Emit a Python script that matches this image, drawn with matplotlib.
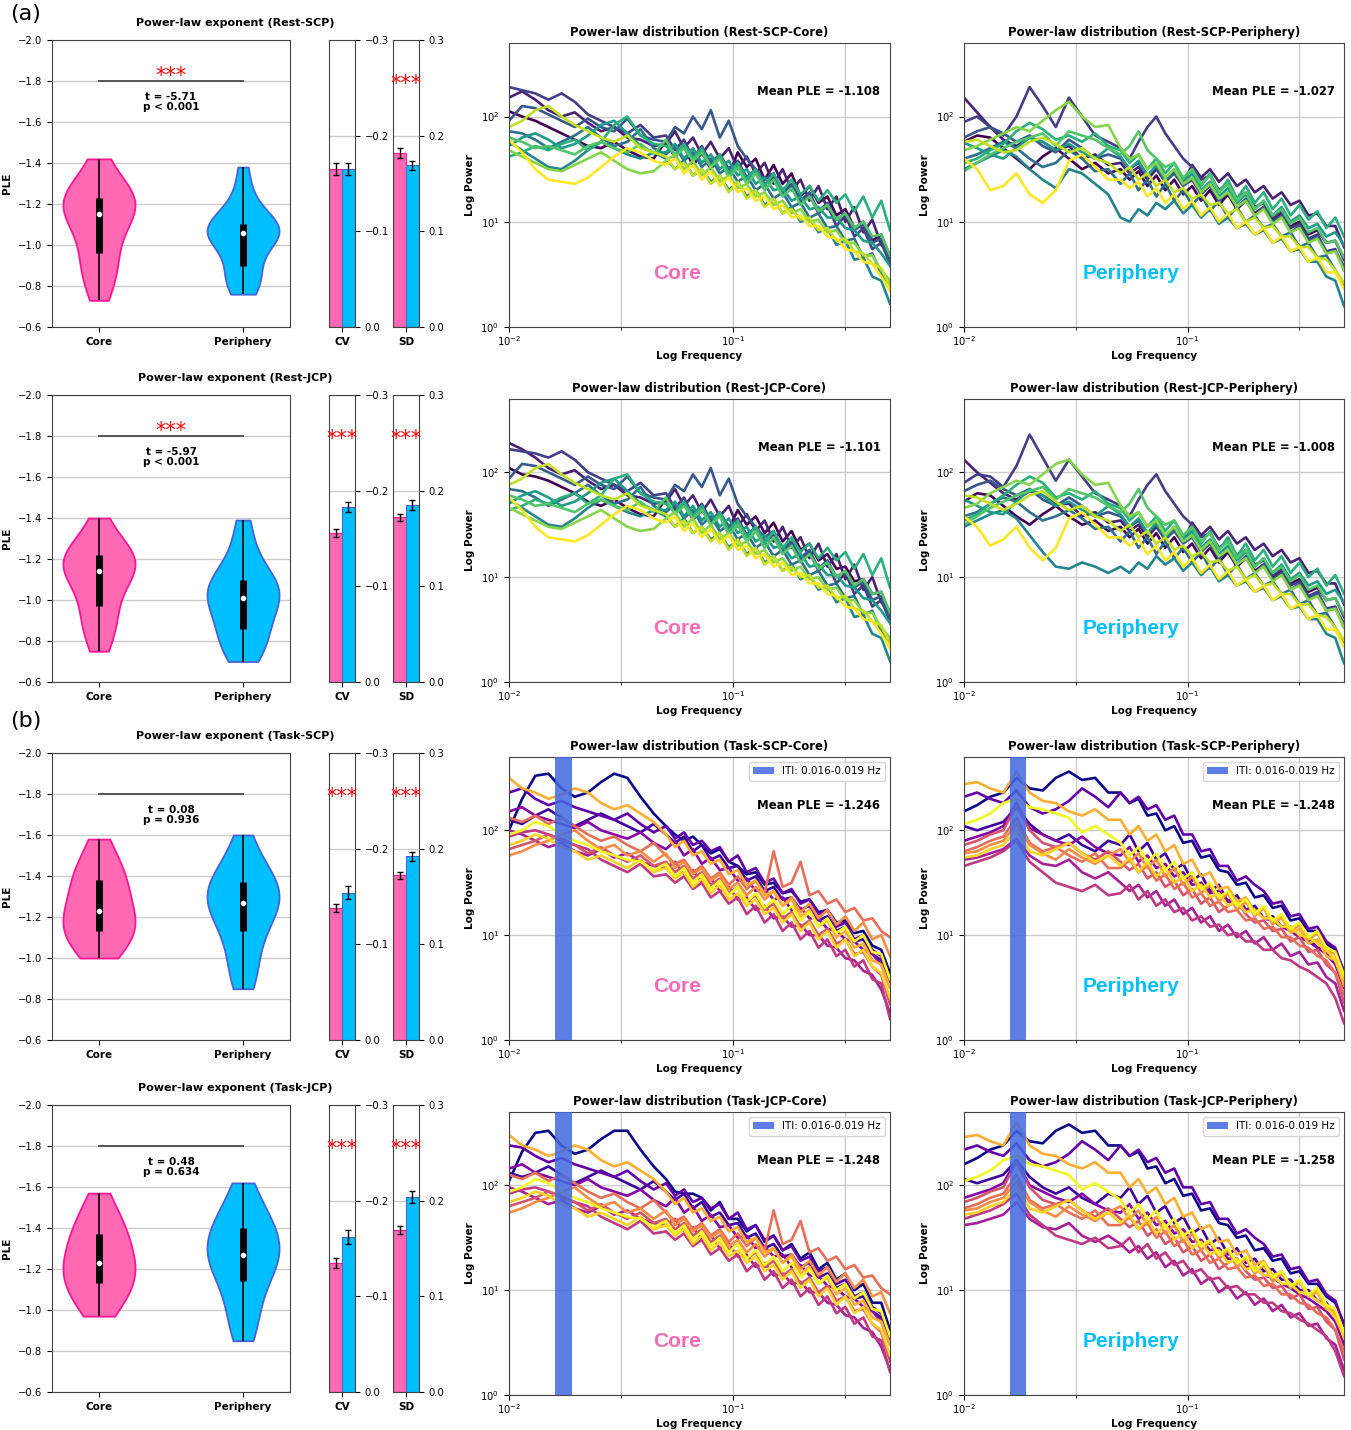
import numpy as np
import matplotlib
matplotlib.use('Agg')
import matplotlib.pyplot as plt
from matplotlib.ticker import FixedLocator, NullLocator, NullFormatter

plt.rcParams['font.family'] = ['DejaVu Sans']
plt.rcParams['axes.edgecolor'] = '#444444'
plt.rcParams['xtick.labelsize'] = 7.2
plt.rcParams['ytick.labelsize'] = 7.2

# ---------------- data ----------------
groups = ['Core', 'Periphery']
conditions = ['Rest-SCP', 'Rest-JCP', 'Task-SCP', 'Task-JCP']

# PLE samples per condition (core, periphery)
ple_rest_scp_core = [-1.42, -1.35, -1.30, -1.27, -1.25, -1.23, -1.22, -1.21, -1.19, -1.18, -1.15,
                     -1.13, -1.10, -1.07, -1.03, -0.96, -0.93, -0.89, -0.85, -0.80, -0.73]
ple_rest_scp_peri = [-1.38, -1.28, -1.20, -1.15, -1.12, -1.10, -1.09, -1.08, -1.07, -1.06, -1.06,
                     -1.05, -1.04, -1.02, -1.00, -0.90, -0.88, -0.85, -0.82, -0.79, -0.76]
ple_rest_jcp_core = [-1.40, -1.33, -1.28, -1.25, -1.23, -1.22, -1.20, -1.19, -1.17, -1.16, -1.14,
                     -1.12, -1.10, -1.07, -1.03, -0.97, -0.94, -0.90, -0.86, -0.81, -0.75]
ple_rest_jcp_peri = [-1.39, -1.30, -1.22, -1.15, -1.12, -1.10, -1.08, -1.06, -1.04, -1.03, -1.01,
                     -0.99, -0.97, -0.94, -0.90, -0.86, -0.83, -0.80, -0.77, -0.74, -0.70]
ple_task_scp_core = [-1.58, -1.52, -1.47, -1.43, -1.40, -1.38, -1.35, -1.32, -1.29, -1.26, -1.23,
                     -1.21, -1.19, -1.17, -1.15, -1.13, -1.11, -1.08, -1.05, -1.03, -1.00]
ple_task_scp_peri = [-1.60, -1.52, -1.46, -1.42, -1.39, -1.37, -1.35, -1.33, -1.31, -1.29, -1.27,
                     -1.25, -1.23, -1.20, -1.17, -1.13, -1.08, -1.02, -0.96, -0.90, -0.85]
ple_task_jcp_core = [-1.57, -1.51, -1.46, -1.42, -1.39, -1.37, -1.34, -1.31, -1.28, -1.26, -1.23,
                     -1.21, -1.19, -1.17, -1.15, -1.13, -1.10, -1.07, -1.04, -1.01, -0.97]
ple_task_jcp_peri = [-1.62, -1.55, -1.49, -1.45, -1.42, -1.40, -1.37, -1.34, -1.32, -1.30, -1.27,
                     -1.25, -1.23, -1.21, -1.18, -1.14, -1.09, -1.03, -0.97, -0.91, -0.85]

t_values = ['-5.71', '-5.97', '0.08', '0.48']
p_texts = ['p < 0.001', 'p < 0.001', 'p = 0.936', 'p = 0.634']
ple_sig = [True, True, False, False]

# CV and SD bars (core, periphery) with errors
cv_values = [[-0.165, -0.165], [-0.156, -0.183], [-0.138, -0.154], [-0.135, -0.162]]
cv_errors = [[0.006, 0.006], [0.004, 0.005], [0.0045, 0.007], [0.005, 0.007]]
cv_sig = [False, True, True, True]
sd_values = [[0.182, 0.169], [0.172, 0.185], [0.172, 0.192], [0.169, 0.204]]
sd_errors = [[0.0055, 0.005], [0.004, 0.005], [0.004, 0.005], [0.004, 0.006]]
sd_sig = [True, True, True, True]

# spectra: frequency grid (Hz); power values given as log10(power)*100
freqs = [0.0100, 0.01144, 0.01310, 0.01499, 0.01716, 0.01964, 0.02248, 0.02573, 0.02945, 0.03371,
         0.03858, 0.04416,
         0.0501, 0.0550, 0.0603, 0.0661, 0.0724, 0.0794, 0.0871, 0.0955, 0.1047, 0.1148, 0.1259,
         0.1380, 0.1514, 0.1660, 0.1820, 0.1995, 0.2188, 0.2399, 0.2630, 0.2884, 0.3162, 0.3467,
         0.3802, 0.4169, 0.4571, 0.5000]

spec_rest_scp_core = [
    [205,200,196,190,184,178,172,170,176,168,162,160,177,161,172,153,166,150,162,144,166,152,160,140,154,136,146,124,134,118,124,106,112,94,100,82,88,66],
    [218,224,216,206,200,204,194,186,190,180,178,172,174,186,170,180,164,176,160,170,150,162,146,156,136,150,130,140,120,134,112,124,100,114,90,102,78,70],
    [228,225,222,216,222,214,202,196,190,184,192,180,182,168,178,160,172,156,164,150,158,142,150,136,142,128,134,118,126,108,116,96,106,86,94,74,80,60],
    [196,210,208,202,196,190,198,190,186,198,182,178,176,190,184,200,188,206,180,196,172,160,150,140,146,128,136,120,128,110,118,102,108,92,98,80,84,62],
    [186,184,178,170,176,182,190,180,172,176,188,170,164,172,158,166,152,160,146,152,138,144,130,136,122,128,114,118,104,108,94,96,82,84,66,70,50,40],
    [176,168,160,152,150,158,168,176,170,164,160,166,160,150,158,144,150,138,144,130,138,124,130,116,122,108,114,100,104,90,94,78,82,64,66,48,44,22],
    [172,180,184,178,170,174,182,192,196,184,172,166,166,174,160,170,156,164,150,158,144,150,136,142,130,132,120,124,112,114,104,104,94,92,82,80,70,58],
    [162,166,172,168,174,178,168,176,192,200,182,174,172,164,174,160,170,152,164,146,156,140,150,134,146,130,140,126,134,120,130,118,126,110,124,104,120,92],
    [180,176,170,172,168,164,172,176,170,166,174,164,178,162,170,158,166,152,160,142,152,136,146,130,140,124,132,116,124,110,116,102,108,94,100,86,88,68],
    [168,162,156,150,148,154,160,166,158,150,146,148,158,164,150,158,144,152,138,144,132,136,124,128,116,120,108,112,100,102,90,92,80,80,68,68,54,44],
    [190,196,206,210,200,192,186,180,176,182,170,166,162,150,156,144,150,136,144,128,138,122,130,114,122,108,112,102,104,92,94,82,84,72,70,60,56,38],
    [178,166,150,140,138,136,142,152,162,170,166,158,154,160,146,154,140,148,134,142,128,132,120,124,112,116,104,106,96,96,86,84,74,72,62,60,48,34],
]
spec_rest_scp_peri = [
    [176,182,180,170,160,150,162,170,160,150,156,146,150,140,148,134,144,130,140,126,134,120,130,116,126,112,120,108,114,102,108,96,100,88,92,80,82,64],
    [218,204,190,178,172,180,176,168,172,160,164,154,156,146,152,140,150,138,148,136,154,142,150,138,146,134,140,128,134,122,128,116,120,106,108,96,96,76],
    [195,200,190,182,200,228,210,190,218,200,182,176,170,160,176,190,200,184,172,160,152,140,144,130,136,122,128,114,118,104,110,94,98,84,88,72,74,54],
    [180,186,190,184,176,182,172,166,178,170,160,164,160,150,156,144,152,138,146,134,140,126,134,120,128,114,122,106,114,100,106,90,96,82,86,70,72,58],
    [160,164,170,176,170,160,152,156,168,160,148,150,136,146,130,140,124,136,120,130,116,126,110,120,104,114,100,106,94,98,86,90,76,80,66,68,54,40],
    [150,156,162,168,162,150,140,132,150,146,136,126,104,100,112,106,118,112,120,108,116,104,112,98,104,94,98,88,92,80,84,72,74,62,62,48,44,20],
    [175,170,164,160,170,180,176,168,174,166,160,170,162,150,158,144,154,140,150,136,146,130,138,124,132,118,126,112,120,106,114,100,106,94,98,86,90,78],
    [156,160,168,174,186,194,188,178,182,176,184,172,168,156,164,150,160,146,156,140,150,134,146,128,140,122,134,118,128,112,122,106,116,102,110,94,104,86],
    [148,156,164,170,176,180,184,172,186,182,178,170,164,172,186,168,160,152,156,142,150,136,144,128,136,120,128,112,120,106,112,98,104,90,94,80,82,66],
    [168,172,178,184,190,186,196,206,214,200,190,192,170,160,164,150,156,142,150,136,142,128,136,122,128,114,120,106,112,98,104,90,94,80,84,70,72,54],
    [176,178,172,166,168,176,180,174,166,170,160,156,146,152,140,146,134,140,128,132,122,126,116,118,108,112,100,104,94,96,86,86,76,76,66,64,54,42],
    [160,150,130,134,146,126,118,130,158,164,152,140,140,132,138,124,132,118,126,112,120,106,114,100,108,94,100,88,94,80,86,72,76,62,66,52,52,36],
]
spec_rest_jcp_core = [
    [204,198,196,192,186,180,172,168,174,166,160,158,175,163,170,155,164,152,160,146,164,150,158,142,152,134,144,126,132,116,122,108,110,96,98,84,86,64],
    [228,222,214,204,198,202,192,184,188,178,176,170,172,184,168,178,162,174,158,168,148,160,144,154,134,148,128,138,118,132,110,122,98,112,88,100,76,68],
    [222,220,218,214,220,212,200,194,188,182,190,178,180,166,176,158,170,154,162,148,156,140,148,134,140,126,132,116,124,106,114,94,104,84,92,72,78,58],
    [194,208,206,200,194,188,196,188,184,196,180,176,174,188,182,198,186,204,178,194,170,158,148,138,144,126,134,118,126,108,116,100,106,90,96,78,82,60],
    [184,182,176,168,174,180,188,178,170,174,186,168,162,170,156,164,150,158,144,150,136,142,128,134,120,126,112,116,102,106,92,94,80,82,64,68,48,38],
    [174,166,158,150,148,156,166,174,168,162,158,164,158,148,156,142,148,136,142,128,136,122,128,114,120,106,112,98,102,88,92,76,80,62,64,46,42,20],
    [170,178,182,176,168,172,180,190,194,182,170,164,164,172,158,168,154,162,148,156,142,148,134,140,128,130,118,122,110,112,102,102,92,90,80,78,68,56],
    [164,168,174,170,176,180,170,178,194,198,180,172,170,162,172,158,168,150,162,144,154,138,148,132,144,128,138,124,132,118,128,116,124,108,122,102,118,90],
    [178,174,168,170,166,162,170,174,168,164,172,162,176,160,168,156,164,150,158,140,150,134,144,128,138,122,130,114,122,108,114,100,106,92,98,84,86,66],
    [166,160,154,148,146,152,158,164,156,148,144,146,156,162,148,156,142,150,136,142,130,134,122,126,114,118,106,110,98,100,88,90,78,78,66,66,52,42],
    [188,194,204,208,198,190,184,178,174,180,168,164,160,148,154,142,148,134,142,126,136,120,128,112,120,106,110,100,102,90,92,80,82,70,68,58,54,36],
    [176,164,148,138,136,134,140,150,160,168,164,156,152,158,144,152,138,146,132,140,126,130,118,122,110,114,102,104,94,94,84,82,72,70,60,58,46,32],
]
spec_rest_jcp_peri = [
    [172,180,178,168,158,150,160,168,158,150,154,144,148,138,146,132,142,128,138,124,132,118,128,114,124,110,118,106,112,100,106,94,98,86,90,78,80,62],
    [212,200,190,180,174,182,178,170,170,158,162,152,154,144,150,138,148,136,146,134,152,140,148,136,144,132,138,126,132,120,126,114,118,104,106,94,94,74],
    [190,198,196,186,206,236,214,192,212,196,180,174,168,158,174,188,198,182,170,158,150,138,142,128,134,120,126,112,116,102,108,92,96,82,86,70,72,52],
    [182,188,192,184,178,184,174,168,176,168,158,162,158,148,154,142,150,136,144,132,138,124,132,118,126,112,120,104,112,98,104,88,94,80,84,68,70,56],
    [158,162,170,176,172,162,154,158,164,156,146,148,134,144,128,138,122,134,118,128,114,124,108,118,102,112,98,104,92,96,84,88,74,78,64,66,52,38],
    [148,154,160,164,156,140,124,110,108,114,110,104,110,104,114,108,120,112,118,106,114,102,110,96,102,92,96,86,90,78,82,70,72,60,60,46,42,18],
    [174,168,162,160,172,184,178,168,172,164,158,168,160,148,156,142,152,138,148,134,144,128,136,122,130,116,124,110,118,104,112,98,104,92,96,84,88,76],
    [154,160,170,178,188,196,190,176,180,174,182,170,166,154,162,148,158,144,154,138,148,132,144,126,138,120,132,116,126,110,120,104,114,100,108,92,102,84],
    [150,158,166,172,178,182,186,174,184,180,176,168,162,170,184,166,158,150,154,140,148,134,142,126,134,118,126,110,118,104,110,96,102,88,92,78,80,64],
    [166,170,180,186,192,188,198,208,212,198,188,190,168,158,162,148,154,140,148,134,140,126,134,120,126,112,118,104,110,96,102,88,92,78,82,68,70,52],
    [178,176,170,164,170,178,182,172,164,168,158,154,144,150,138,144,132,138,126,130,120,124,114,116,106,110,98,102,92,94,84,84,74,74,64,62,52,40],
    [158,148,130,136,148,128,116,128,156,162,150,138,138,130,136,122,130,116,124,110,118,104,112,98,106,92,98,86,92,78,84,70,74,60,64,50,50,34],
]
spec_task_scp_core = [
    [200,230,252,254,240,232,236,246,254,250,232,216,204,196,190,194,186,178,182,170,166,158,160,148,150,140,142,132,134,122,124,112,114,102,104,90,86,64],
    [210,206,214,220,212,204,210,216,210,204,198,206,196,188,194,180,186,172,176,164,166,152,156,142,146,134,136,124,128,114,118,104,108,94,96,82,76,56],
    [236,240,230,224,228,222,218,214,210,216,206,198,204,192,198,186,190,180,184,170,176,160,164,150,154,140,144,130,134,120,124,108,112,96,100,86,80,58],
    [218,222,214,210,206,202,208,200,196,192,198,188,182,190,176,182,168,174,162,164,152,154,142,144,134,136,124,126,116,116,106,104,96,94,86,82,72,50],
    [200,196,190,184,188,180,176,182,174,178,170,166,164,170,158,162,150,154,142,146,134,136,124,128,116,118,108,110,100,100,90,88,78,76,66,62,48,26],
    [194,198,200,196,190,186,182,172,166,160,168,156,158,150,156,144,150,136,142,130,136,120,128,112,120,104,112,96,104,88,96,80,86,70,76,58,54,20],
    [182,186,190,196,192,186,178,184,176,170,176,166,170,160,166,154,160,148,154,140,146,132,138,124,130,116,122,108,114,100,106,92,96,82,84,70,62,34],
    [212,208,214,206,212,204,196,190,194,186,180,188,176,168,172,160,166,154,160,148,156,144,152,140,180,146,150,170,138,142,130,134,122,126,114,116,104,98],
    [176,180,186,190,196,200,190,182,186,176,180,170,178,164,170,158,164,152,158,144,150,138,146,134,142,128,136,122,130,116,124,110,118,104,112,96,100,80],
    [250,240,236,230,234,240,236,226,220,224,216,208,196,184,190,176,180,168,172,158,162,148,152,138,142,128,134,118,124,108,114,98,104,88,92,76,72,50],
    [186,190,196,192,184,180,172,176,170,164,172,160,164,154,160,146,154,140,148,134,140,128,134,120,126,112,120,104,112,96,104,88,96,80,86,70,64,40],
    [196,200,208,204,196,190,186,180,176,172,170,162,168,156,164,150,158,144,152,138,146,132,140,126,134,120,128,114,122,108,116,102,108,94,100,84,82,58],
]
spec_task_scp_peri = [
    [218,224,232,236,250,240,238,250,256,248,250,236,236,226,230,214,216,200,204,188,190,174,176,162,160,148,150,136,138,126,128,114,116,104,104,92,86,66],
    [204,200,204,208,222,206,196,190,196,186,180,190,186,196,180,188,172,178,162,168,152,158,142,148,132,138,124,128,116,118,108,108,98,98,88,86,74,54],
    [232,236,230,226,238,222,216,220,228,240,232,222,236,226,232,220,224,210,214,196,196,180,182,166,166,152,156,148,142,130,132,118,120,106,108,94,88,64],
    [190,194,198,204,226,202,196,190,186,194,184,178,176,184,170,176,164,168,156,160,148,150,140,142,132,132,124,124,116,114,108,104,98,94,88,82,72,50],
    [172,174,178,182,192,176,168,166,172,160,154,160,150,142,148,136,142,128,134,120,126,112,118,104,110,98,104,92,98,86,92,80,84,72,74,60,54,28],
    [166,170,174,180,190,170,160,150,146,142,148,138,140,148,134,142,128,134,122,126,114,118,108,110,100,102,94,94,86,86,78,76,70,66,60,54,40,16],
    [186,190,196,200,224,200,188,184,188,178,172,180,170,162,168,154,160,146,152,138,144,130,136,122,128,132,120,112,114,104,106,94,98,84,86,72,64,36],
    [180,184,190,194,212,188,180,184,176,170,178,164,164,172,160,166,152,158,144,150,136,140,128,132,122,124,114,116,106,108,98,98,90,88,80,76,64,44],
    [178,180,186,190,206,186,178,172,182,174,168,176,182,170,178,164,172,156,164,148,156,140,148,132,140,124,132,118,126,110,118,104,110,96,102,86,82,60],
    [244,246,240,236,256,236,228,226,218,214,220,210,210,196,204,190,196,180,186,168,172,156,160,144,146,132,136,122,126,112,116,102,106,92,96,80,76,52],
    [174,176,182,186,200,180,176,182,188,178,170,176,166,174,160,170,156,164,150,156,142,148,136,140,128,132,122,124,116,116,108,108,100,98,92,86,76,58],
    [206,210,216,226,230,222,220,216,212,198,204,196,188,176,184,170,178,162,170,154,160,144,150,136,142,128,134,120,128,114,120,106,112,98,104,88,84,62],
]
spec_task_jcp_core = [
    [204,232,250,252,238,230,234,244,252,252,234,218,206,194,192,192,188,176,184,168,168,156,162,146,152,138,144,130,136,120,126,110,116,100,106,88,88,62],
    [212,208,212,218,210,202,208,214,208,202,196,204,194,186,192,178,184,170,174,162,164,150,154,140,144,132,134,122,126,112,116,102,106,92,94,80,74,54],
    [238,236,228,222,226,220,216,212,208,214,204,196,202,190,196,184,188,178,182,168,174,158,162,148,152,138,142,128,132,118,122,106,110,94,98,84,78,56],
    [216,220,212,208,204,200,206,198,194,190,196,186,180,188,174,180,166,172,160,162,150,152,140,142,132,134,122,124,114,114,104,102,94,92,84,80,70,48],
    [198,194,188,182,186,178,174,180,172,176,168,164,162,168,156,160,148,152,140,144,132,134,122,126,114,116,106,108,98,98,88,86,76,74,64,60,46,24],
    [192,196,198,194,188,184,180,170,164,158,166,154,156,148,154,142,148,134,140,128,134,118,126,110,118,102,110,94,102,86,94,78,84,68,74,56,52,22],
    [180,184,188,194,190,184,176,182,174,168,174,164,168,158,164,152,158,146,152,138,144,130,136,122,128,114,120,106,112,98,104,90,94,80,82,68,60,32],
    [210,206,212,204,210,202,194,188,192,184,178,186,174,166,170,158,164,152,158,146,154,142,150,138,176,144,148,166,136,140,128,132,120,124,112,114,102,96],
    [174,178,184,188,194,198,188,180,184,174,178,168,176,162,168,156,162,150,156,142,148,136,144,132,140,126,134,120,128,114,122,108,116,102,110,94,98,78],
    [248,238,234,228,232,238,234,224,218,222,214,206,194,182,188,174,178,166,170,156,160,146,150,136,140,126,132,116,122,106,112,96,102,86,90,74,70,48],
    [184,188,194,190,182,178,170,174,168,162,170,158,162,152,158,144,152,138,146,132,138,126,132,118,124,110,118,102,110,94,102,86,94,78,84,68,62,38],
    [194,198,206,202,194,188,184,178,174,170,168,160,166,154,162,148,156,142,150,136,144,130,138,124,132,118,126,112,120,106,114,100,106,92,98,82,80,56],
]
spec_task_jcp_peri = [
    [220,226,234,238,252,242,240,252,258,250,252,238,238,228,232,216,218,202,206,190,192,176,178,164,162,150,152,138,140,128,130,116,118,106,106,94,88,68],
    [206,202,206,210,224,208,198,192,198,188,182,192,188,198,182,190,174,180,164,170,154,160,144,150,134,140,126,130,118,120,110,110,100,100,90,88,76,56],
    [234,238,232,228,240,224,218,222,230,242,234,224,238,228,234,222,226,212,216,198,198,182,184,168,168,154,158,150,144,132,134,120,122,108,110,96,90,66],
    [188,192,196,202,224,200,194,188,184,192,182,176,174,182,168,174,162,166,154,158,146,148,138,140,130,130,122,122,114,112,106,102,96,92,86,80,70,48],
    [162,164,168,172,184,168,160,158,164,152,146,152,144,136,142,130,136,122,128,114,120,106,112,98,104,92,98,86,92,80,86,74,78,66,68,54,48,24],
    [168,172,176,182,192,172,162,152,148,144,150,140,142,150,136,144,130,136,124,128,116,120,110,112,102,104,96,96,88,88,80,78,72,68,62,56,42,18],
    [184,188,194,198,222,198,186,182,186,176,170,178,168,160,166,152,158,144,150,136,142,128,134,120,126,130,118,110,112,102,104,92,96,82,84,70,62,34],
    [178,182,188,192,210,186,178,182,174,168,176,162,162,170,158,164,150,156,142,148,134,138,126,130,120,122,112,114,104,106,96,96,88,86,78,74,62,42],
    [176,178,184,188,204,184,176,170,180,172,166,174,180,168,176,162,170,154,162,146,154,138,146,130,138,122,130,116,124,108,116,102,108,94,100,84,80,58],
    [246,248,242,238,260,238,230,228,220,216,222,212,212,198,206,192,198,182,188,170,174,158,162,146,148,134,138,124,128,114,118,104,108,94,98,82,78,54],
    [172,174,180,184,198,178,174,180,186,176,168,174,164,172,158,168,154,162,148,154,140,146,134,138,126,130,120,122,114,114,106,106,98,96,90,84,74,56],
    [204,208,214,224,228,220,218,214,210,196,202,194,186,174,182,168,176,160,168,152,158,142,148,134,140,126,132,118,126,112,118,104,110,96,102,86,82,60],
]
mean_ple = [['-1.108', '-1.027'], ['-1.101', '-1.008'], ['-1.246', '-1.248'], ['-1.248', '-1.258']]
iti_band = [0.016, 0.019]
iti_label = 'ITI: 0.016-0.019 Hz'

ple_data = [(ple_rest_scp_core, ple_rest_scp_peri), (ple_rest_jcp_core, ple_rest_jcp_peri),
            (ple_task_scp_core, ple_task_scp_peri), (ple_task_jcp_core, ple_task_jcp_peri)]
spec_data = [(spec_rest_scp_core, spec_rest_scp_peri), (spec_rest_jcp_core, spec_rest_jcp_peri),
             (spec_task_scp_core, spec_task_scp_peri), (spec_task_jcp_core, spec_task_jcp_peri)]

# ---------------- style ----------------
PINK, PINK_E = '#FF69B4', '#FF1493'
BLUE, BLUE_E = '#00BFFF', '#4464D8'
GRID = '#cccccc'

W, H = 1351, 1430
fig = plt.figure(figsize=(W / 100, H / 100), dpi=100)


def ax_px(x0, y0, x1, y1):
    return fig.add_axes([x0 / W, 1 - y1 / H, (x1 - x0) / W, (y1 - y0) / H])


vio_top = [40, 395, 753, 1105]
spec_top = [43, 399, 757, 1112]
spec_bot = [327, 682, 1040, 1395]
freq_arr = np.array(freqs)

for r in range(4):
    top = vio_top[r]
    bot = top + 287
    # ---- violin ----
    ax = ax_px(52, top, 290, bot)
    core, peri = ple_data[r]
    parts = ax.violinplot([core, peri], positions=[0, 1], widths=0.5, showextrema=False)
    for body, fc, ec in zip(parts['bodies'], [PINK, BLUE], [PINK_E, BLUE_E]):
        body.set_facecolor(fc)
        body.set_edgecolor(ec)
        body.set_alpha(1)
        body.set_linewidth(1.3)
        body.set_zorder(2)
    for x, d in zip([0, 1], [core, peri]):
        q1, med, q3 = np.percentile(d, [25, 50, 75])
        ax.vlines(x, min(d), max(d), color='k', lw=1.2, zorder=3)
        ax.vlines(x, q1, q3, color='k', lw=5, zorder=3)
        ax.scatter([x], [med], color='white', s=9, zorder=4)
    ax.plot([0, 1], [-1.8, -1.8], color='#555555', lw=1.4, zorder=3)
    if ple_sig[r]:
        ax.text(0.5, -1.795, '***', color='red', ha='center', va='baseline', fontsize=15)
    ax.text(0.5, -1.748, f't = {t_values[r]}\n{p_texts[r]}', ha='center', va='top',
            fontsize=7.5, fontweight='bold', linespacing=1.1)
    ax.set_xlim(-0.326, 1.326)
    ax.set_ylim(-0.6, -2.0)
    ax.set_yticks([-2.0, -1.8, -1.6, -1.4, -1.2, -1.0, -0.8, -0.6])
    ax.set_xticks([0, 1])
    ax.set_xticklabels(groups, fontweight='bold', fontsize=7.5)
    ax.set_ylabel('PLE', fontweight='bold', fontsize=7.5)
    ax.yaxis.grid(True, color=GRID, lw=1)
    ax.set_axisbelow(True)
    fig.text(235 / W, 1 - (top - 17) / H, f'Power-law exponent ({conditions[r]})',
             ha='center', va='center', fontsize=8, fontweight='bold')

    # ---- CV / SD bars ----
    for (x0, x1), vals, errs, lab, sig, ylim, ticks in [
            ((329, 355), cv_values[r], cv_errors[r], 'CV', cv_sig[r], (0, -0.3), [0.0, -0.1, -0.2, -0.3]),
            ((393, 419), sd_values[r], sd_errors[r], 'SD', sd_sig[r], (0, 0.3), [0.0, 0.1, 0.2, 0.3])]:
        bx = ax_px(x0, top, x1, bot)
        bx.bar([0, 1], vals, width=1, color=[PINK, BLUE], edgecolor=[PINK_E, BLUE_E], lw=0.8, zorder=2)
        bx.errorbar([0, 1], vals, yerr=errs, fmt='none', ecolor='k', elinewidth=1,
                    capsize=2.5, capthick=1, zorder=3)
        bx.set_xlim(-0.52, 1.52)
        bx.set_ylim(*ylim)
        bx.yaxis.tick_right()
        bx.set_yticks(ticks)
        bx.set_xticks([0.5])
        bx.set_xticklabels([lab], fontweight='bold', fontsize=7.5)
        bx.yaxis.grid(True, color=GRID, lw=1)
        bx.set_axisbelow(True)
        if sig:
            sy = 0.248 if ylim[1] > 0 else -0.248
            bx.text(0.5, sy, '***', color='red', ha='center', va='baseline', fontsize=15, clip_on=False)

    # ---- spectra ----
    task = r >= 2
    cmap = plt.cm.plasma if task else plt.cm.viridis
    for c, (x0, x1) in enumerate([(509, 890), (964, 1344)]):
        sx = ax_px(x0, spec_top[r], x1, spec_bot[r])
        lines = spec_data[r][c]
        cols = cmap(np.linspace(0, 1, len(lines)))
        for v, col in zip(lines, cols):
            n = min(len(v), len(freq_arr))
            sx.loglog(freq_arr[:n], 10 ** (np.array(v[:n]) / 100.0), color=col, lw=1.9, zorder=2)
        if task:
            sx.axvspan(iti_band[0], iti_band[1], color='royalblue', alpha=0.85, lw=0, zorder=3,
                       label=iti_label)
            sx.legend(loc='upper right', fontsize=7.5)
        sx.set_xlim(0.01, 0.5)
        sx.set_ylim(1, 500)
        sx.xaxis.set_major_locator(FixedLocator([0.01, 0.1]))
        sx.xaxis.set_minor_locator(FixedLocator([10 ** -1.5, 10 ** -0.5]))
        sx.xaxis.set_minor_formatter(NullFormatter())
        sx.yaxis.set_major_locator(FixedLocator([1, 10, 100]))
        sx.yaxis.set_minor_locator(NullLocator())
        sx.tick_params(axis='x', which='both', pad=2)
        sx.grid(True, which='both', color=GRID, lw=1)
        sx.set_axisbelow(True)
        region = groups[c]
        sx.set_title(f'Power-law distribution ({conditions[r]}-{region})', fontsize=8.4,
                     fontweight='bold', pad=5)
        sx.set_xlabel('Log Frequency', fontweight='bold', fontsize=7.5, labelpad=2)
        sx.set_ylabel('Log Power', fontweight='bold', fontsize=7.5)
        sx.text(0.975, 0.83, f'Mean PLE = {mean_ple[r][c]}', transform=sx.transAxes,
                ha='right', va='center', fontsize=8.4, fontweight='bold', zorder=5)
        sx.text(0.44, 0.19, region, transform=sx.transAxes, ha='center', va='center',
                fontsize=15, fontweight='bold', color=PINK if c == 0 else BLUE,
                family=['Liberation Sans', 'DejaVu Sans'], zorder=5)

fig.text(10 / W, 1 - 4 / H, '(a)', ha='left', va='top', fontsize=16)
fig.text(10 / W, 1 - 711 / H, '(b)', ha='left', va='top', fontsize=16)

fig.savefig('out.png', dpi=100)
